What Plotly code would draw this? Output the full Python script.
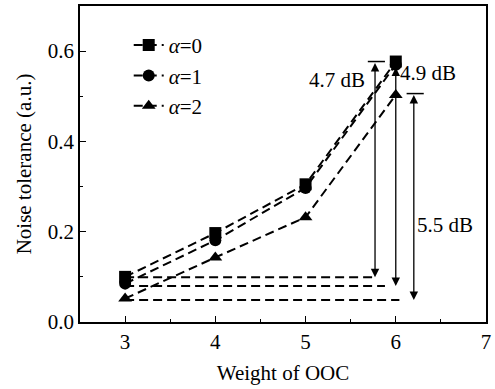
import plotly.graph_objects as go

weights = [3, 4, 5, 6]
alpha0 = [0.100, 0.197, 0.305, 0.577]
alpha1 = [0.085, 0.181, 0.297, 0.570]
alpha2 = [0.052, 0.143, 0.232, 0.503]
series_names = ["<i>α</i>=0", "<i>α</i>=1", "<i>α</i>=2"]
symbols = ["square", "circle", "triangle-up"]

# reference (baseline) levels and gain arrows
ref_levels = [0.099, 0.080, 0.049]
ref_start = [3.0, 3.0, 3.0]
ref_end = [5.77, 5.88, 6.04]
arrow_x = [5.77, 6.0, 6.2]
arrow_top = [0.577, 0.567, 0.506]
arrow_bottom = [0.099, 0.080, 0.049]
gain_labels = ["4.7 dB", "4.9 dB", "5.5 dB"]
label_x = [5.35, 6.36, 6.55]
label_y = [0.535, 0.552, 0.214]

FONT = "Liberation Serif"
FS = 21
fig = go.Figure()

for name, vals, sym in zip(series_names, [alpha0, alpha1, alpha2], symbols):
    fig.add_trace(go.Scatter(
        x=weights, y=vals, name=name, mode="lines+markers",
        line=dict(color="black", width=2, dash="9px,5px"),
        marker=dict(symbol=sym, size=12, color="black"),
    ))

for lv, xs, xe in zip(ref_levels, ref_start, ref_end):
    fig.add_trace(go.Scatter(
        x=[xs, xe], y=[lv, lv], mode="lines", showlegend=False,
        line=dict(color="black", width=2, dash="9px,5px"), hoverinfo="skip",
    ))

# caps
for i in [0, 2]:
    fig.add_trace(go.Scatter(
        x=[arrow_x[i] - 0.08, arrow_x[i] + 0.11], y=[arrow_top[i], arrow_top[i]],
        mode="lines", showlegend=False, line=dict(color="black", width=1.5),
        hoverinfo="skip",
    ))

for xa, yt, yb in zip(arrow_x, arrow_top, arrow_bottom):
    fig.add_annotation(
        x=xa, y=yb, ax=xa, ay=yt, xref="x", yref="y", axref="x", ayref="y",
        text="", showarrow=True, arrowhead=2, arrowside="end+start",
        arrowsize=1.3, arrowwidth=1.3, arrowcolor="black",
    )

for t, lx, ly in zip(gain_labels, label_x, label_y):
    fig.add_annotation(x=lx, y=ly, xref="x", yref="y", text=t, showarrow=False,
                       font=dict(family=FONT, size=FS, color="black"))

axis_common = dict(
    showline=True, linecolor="black", linewidth=1.5, mirror=True,
    ticks="inside", ticklen=6, tickwidth=1.2, tickcolor="black",
    showgrid=False, zeroline=False,
    tickfont=dict(family=FONT, size=FS, color="black"),
)

fig.update_xaxes(
    range=[2.5, 7], tick0=3, dtick=1,
    minor=dict(ticks="inside", ticklen=3, dtick=0.5, tick0=3, tickcolor="black"),
    title=dict(text="Weight of OOC", font=dict(family=FONT, size=FS, color="black"), standoff=12),
    **axis_common,
)
fig.update_yaxes(
    range=[0, 0.7], tick0=0, dtick=0.2, tickformat=".1f",
    minor=dict(ticks="inside", ticklen=3, dtick=0.1, tick0=0, tickcolor="black"),
    title=dict(text="Noise tolerance (a.u.)", font=dict(family=FONT, size=FS, color="black"), standoff=10),
    **axis_common,
)

fig.update_layout(
    width=495, height=389,
    margin=dict(l=80, r=6, t=4, b=67),
    plot_bgcolor="white", paper_bgcolor="white",
    font=dict(family=FONT, size=FS, color="black"),
    legend=dict(x=0.12, y=0.94, xanchor="left", yanchor="top",
                bgcolor="rgba(0,0,0,0)", font=dict(family=FONT, size=FS),
                tracegroupgap=0),
    showlegend=True,
)

fig.write_html("out.html")
